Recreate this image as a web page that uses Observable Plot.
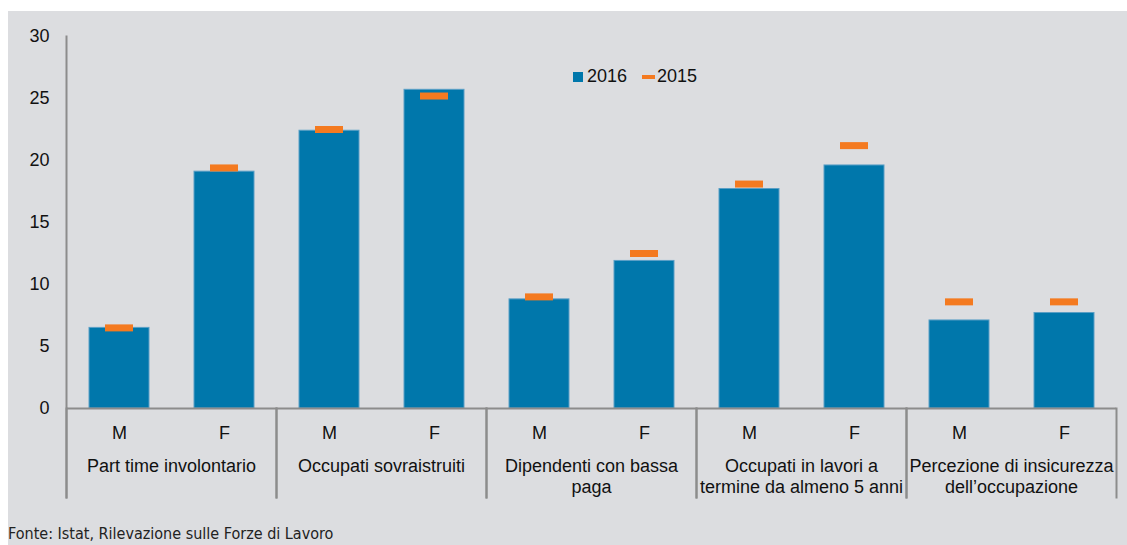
<!DOCTYPE html>
<html>
<head>
<meta charset="utf-8">
<script src="https://cdn.jsdelivr.net/npm/d3@7"></script>
<script src="https://cdn.jsdelivr.net/npm/@observablehq/plot@0.6"></script>
<style>
  html, body { margin: 0; padding: 0; background: #ffffff; }
  #panel { position: absolute; left: 8px; top: 11px; width: 1119px; height: 534px; background: #dcdde0; font-family: "Liberation Sans", Arial, sans-serif; color: #111; }
  #chart svg { display: block; }
  #legend { position: absolute; left: 565px; top: 55px; font-size: 18px; display: flex; align-items: center; white-space: nowrap; }
  #legend .sw { display: inline-block; width: 10px; height: 10px; background: #0077ab; margin-right: 4px; }
  #legend .dash { display: inline-block; width: 13px; height: 4px; background: #f47a20; margin-left: 15px; margin-right: 2px; }
  #caption { position: absolute; left: 0px; top: 513px; font-family: "Liberation Sans Narrow", "Arial Narrow", "DejaVu Sans Condensed", sans-serif; font-size: 16px; color: #222; white-space: nowrap; }
</style>
</head>
<body>
<div id="panel">
  <div id="chart"></div>
  <div id="legend"><span class="sw"></span>2016<span class="dash"></span>2015</div>
  <div id="caption">Fonte: Istat, Rilevazione sulle Forze di Lavoro</div>
</div>
<script>
const groups = [
  "Part time involontario",
  "Occupati sovraistruiti",
  "Dipendenti con bassa paga",
  "Occupati in lavori a termine da almeno 5 anni",
  "Percezione di insicurezza dell’occupazione"
];
const groupLabels = [
  "Part time involontario",
  "Occupati sovraistruiti",
  "Dipendenti con bassa\npaga",
  "Occupati in lavori a\ntermine da almeno 5 anni",
  "Percezione di insicurezza\ndell’occupazione"
];
const sexes = ["M", "F"];
// order: group1 M, group1 F, group2 M, ...
const values2016 = [6.5, 19.1, 22.4, 25.7, 8.8, 11.9, 17.7, 19.6, 7.1, 7.7];
const values2015 = [6.5, 19.4, 22.5, 25.2, 9.0, 12.5, 18.1, 21.2, 8.6, 8.6];
const yTicks = [0, 5, 10, 15, 20, 25, 30];

const data = [];
groups.forEach((g, i) => sexes.forEach((s, j) => {
  const k = i * 2 + j;
  data.push({group: g, sex: s, v2016: values2016[k], v2015: values2015[k]});
}));
const labelData = groups.map((g, i) => ({group: g, label: groupLabels[i]}));

const axisColor = "#8c8c8c";

const chart = Plot.plot({
  width: 1119,
  height: 500,
  marginTop: 25,
  marginBottom: 103,
  marginLeft: 58,
  marginRight: 11,
  style: {background: "transparent", fontFamily: "Liberation Sans, Arial, sans-serif", fontSize: "18px", color: "#111"},
  fx: {domain: groups, padding: 0, axis: null, label: null},
  x: {domain: sexes, paddingInner: 0.4286, paddingOuter: 0.2143, label: null},
  y: {domain: [0, 30], label: null},
  marks: [
    Plot.axisY({ticks: yTicks, tickSize: 0, tickPadding: 17, fontSize: 18, label: null}),
    Plot.axisX({tickSize: 0, tickPadding: 18, fontSize: 18, label: null}),
    Plot.barY(data, {fx: "group", x: "sex", y: "v2016", fill: "#0077ab", stroke: "#5a9fc6", strokeWidth: 1}),
    Plot.tickY(data, {fx: "group", x: "sex", y: "v2015", stroke: "#f47a20", strokeWidth: 7, insetLeft: 16, insetRight: 16}),
    Plot.ruleY([0], {stroke: axisColor, strokeWidth: 2}),
    Plot.frame({facet: "super", anchor: "left", stroke: axisColor, strokeWidth: 2, insetBottom: -89}),
    Plot.frame({anchor: "left", stroke: axisColor, strokeWidth: 2, insetTop: 372, insetBottom: -89}),
    Plot.frame({anchor: "right", stroke: axisColor, strokeWidth: 2, insetTop: 372, insetBottom: -89}),
    Plot.text(labelData, {fx: "group", text: "label", frameAnchor: "bottom", lineAnchor: "top", dy: 48, fontSize: 18, lineHeight: 1.2, fill: "#111"})
  ]
});
document.getElementById("chart").appendChild(chart);
</script>
</body>
</html>
